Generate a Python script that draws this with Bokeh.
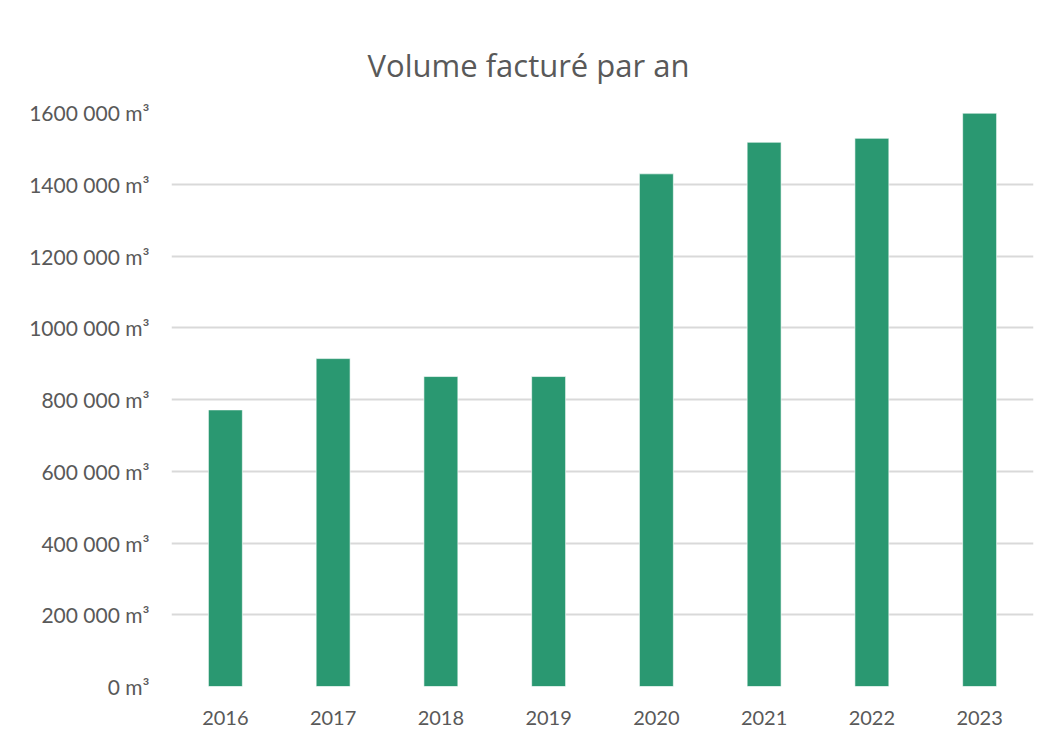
from bokeh.plotting import figure
from bokeh.models import FixedTicker, Range1d, ColumnDataSource
from bokeh.embed import file_html
from bokeh.resources import INLINE

years = ["2016", "2017", "2018", "2019", "2020", "2021", "2022", "2023"]
volumes = [771000, 914000, 864000, 864000, 1429000, 1517000, 1528000, 1598000]
tick_values = [0, 200000, 400000, 600000, 800000, 1000000, 1200000, 1400000, 1600000]
tick_labels = ["0 m³", "200 000 m³", "400 000 m³", "600 000 m³", "800 000 m³",
               "1000 000 m³", "1200 000 m³", "1400 000 m³", "1600 000 m³"]
title_text = "Volume facturé par an"

FONT = "Lato"
TXT = "#595959"

src = ColumnDataSource(dict(year=years, volume=volumes))

p = figure(x_range=years, y_range=Range1d(0, 1600000), width=1041, height=732,
           output_backend="svg", toolbar_location=None, title=title_text,
           min_border_left=171, min_border_right=8, min_border_top=112, min_border_bottom=46)

p.vbar(x="year", top="volume", width=0.315, source=src, fill_color="#2A9871",
       line_color="white", line_alpha=0.6, line_width=1)

p.title.text_font = "Open Sans"
p.title.text_font_size = "31px"
p.title.text_font_style = "normal"
p.title.text_color = TXT
p.title.align = "left"
p.title.offset = 196
p.title.standoff = 54

p.outline_line_color = None
p.xgrid.grid_line_color = None
p.ygrid.grid_line_color = "#D9D9D9"
p.ygrid.grid_line_width = 2
p.yaxis.ticker = FixedTicker(ticks=tick_values)
p.yaxis.major_label_overrides = {v: s for v, s in zip(tick_values, tick_labels)}

for ax in (p.xaxis, p.yaxis):
    ax.axis_line_color = None
    ax.major_tick_line_color = None
    ax.minor_tick_line_color = None
    ax.major_label_text_font = FONT
    ax.major_label_text_color = TXT
p.yaxis.major_label_text_font_size = "21px"
p.xaxis.major_label_text_font_size = "20px"
p.yaxis.major_label_standoff = 16
p.xaxis.major_label_standoff = 18

open("out.html", "w").write(file_html(p, INLINE))
